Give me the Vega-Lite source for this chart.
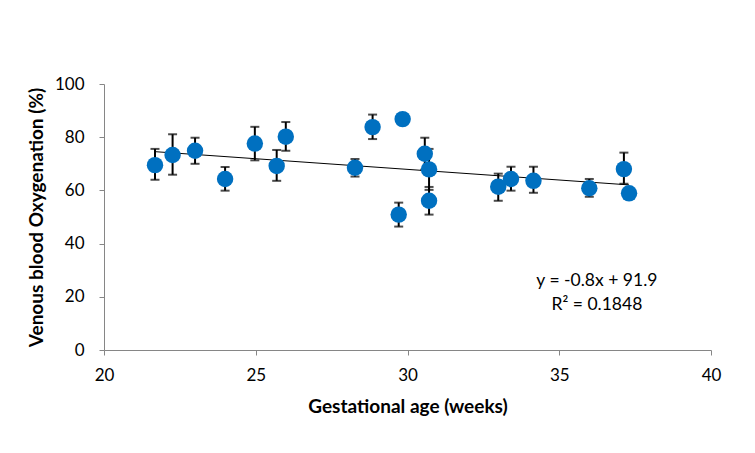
{
  "$schema": "https://vega.github.io/schema/vega-lite/v6.json",
  "autosize": "none",
  "width": 607,
  "height": 266,
  "padding": {"left": 104, "top": 84, "right": 44, "bottom": 103},
  "background": "white",
  "config": {
    "view": {"stroke": null},
    "font": "Lato",
    "axis": {
      "grid": false,
      "domainColor": "#868686",
      "tickColor": "#868686",
      "tickSize": 5,
      "labelFlush": false,
      "labelFont": "Lato",
      "labelFontSize": 17,
      "labelColor": "black",
      "titleFont": "Lato",
      "titleFontSize": 19,
      "titleFontWeight": "bold",
      "titleColor": "black"
    }
  },
  "datasets": {
    "pts": [
      {"age": 21.68, "oxy": 69.5, "lo": 64.0, "hi": 75.6},
      {"age": 22.26, "oxy": 73.3, "lo": 65.9, "hi": 81.1},
      {"age": 23.0, "oxy": 74.9, "lo": 70.0, "hi": 79.8},
      {"age": 23.99, "oxy": 64.3, "lo": 59.9, "hi": 68.8},
      {"age": 24.97, "oxy": 77.6, "lo": 71.3, "hi": 83.9},
      {"age": 25.69, "oxy": 69.2, "lo": 63.6, "hi": 75.2},
      {"age": 25.99, "oxy": 80.2, "lo": 74.9, "hi": 85.7},
      {"age": 28.27, "oxy": 68.5, "lo": 65.2, "hi": 71.8},
      {"age": 28.85, "oxy": 83.8, "lo": 79.3, "hi": 88.5},
      {"age": 29.84, "oxy": 86.8, "lo": null, "hi": null},
      {"age": 29.71, "oxy": 50.9, "lo": 46.4, "hi": 55.4},
      {"age": 30.57, "oxy": 73.8, "lo": 67.8, "hi": 79.8},
      {"age": 30.71, "oxy": 67.9, "lo": 60.2, "hi": 75.6},
      {"age": 30.71, "oxy": 56.1, "lo": 50.9, "hi": 61.3},
      {"age": 32.99, "oxy": 61.4, "lo": 56.1, "hi": 66.3},
      {"age": 33.41, "oxy": 64.3, "lo": 59.9, "hi": 68.9},
      {"age": 34.15, "oxy": 63.6, "lo": 59.1, "hi": 68.9},
      {"age": 35.99, "oxy": 60.8, "lo": 57.6, "hi": 64.3},
      {"age": 37.13, "oxy": 68.0, "lo": 62.5, "hi": 74.2},
      {"age": 37.3, "oxy": 58.9, "lo": null, "hi": null}
    ],
    "trend": [
      {"age": 21.68, "oxy": 74.56},
      {"age": 37.3, "oxy": 62.06}
    ],
    "notes": [
      {"age": 36.24, "oxy": 25.9, "label": "y = -0.8x + 91.9"},
      {"age": 36.24, "oxy": 17.0, "label": "R² = 0.1848"}
    ]
  },
  "encoding": {
    "x": {"field": "age", "type": "quantitative", "scale": {"domain": [20, 40]}, "axis": {"values": [20, 25, 30, 35, 40], "labelPadding": 12, "titlePadding": 14}, "title": "Gestational age (weeks)"},
    "y": {"field": "oxy", "type": "quantitative", "scale": {"domain": [0, 100]}, "axis": {"values": [0, 20, 40, 60, 80, 100], "labelPadding": 15, "titlePadding": 8}, "title": "Venous blood Oxygenation (%)"}
  },
  "layer": [
    {
      "data": {"name": "trend"},
      "mark": {"type": "line", "color": "black", "strokeWidth": 1}
    },
    {
      "data": {"name": "pts"},
      "transform": [{"filter": "datum.lo != null"}],
      "mark": {"type": "errorbar", "ticks": {"size": 9, "color": "black", "thickness": 2}, "rule": {"color": "black", "strokeWidth": 2}},
      "encoding": {
        "y": {"field": "lo", "type": "quantitative", "title": "Venous blood Oxygenation (%)"},
        "y2": {"field": "hi"}
      }
    },
    {
      "data": {"name": "pts"},
      "mark": {"type": "circle", "color": "#0070C0", "opacity": 1, "size": 270}
    },
    {
      "data": {"name": "notes"},
      "mark": {"type": "text", "font": "Lato", "fontSize": 17.5, "color": "black", "align": "center", "baseline": "middle"},
      "encoding": {
        "text": {"field": "label"}
      }
    }
  ]
}
